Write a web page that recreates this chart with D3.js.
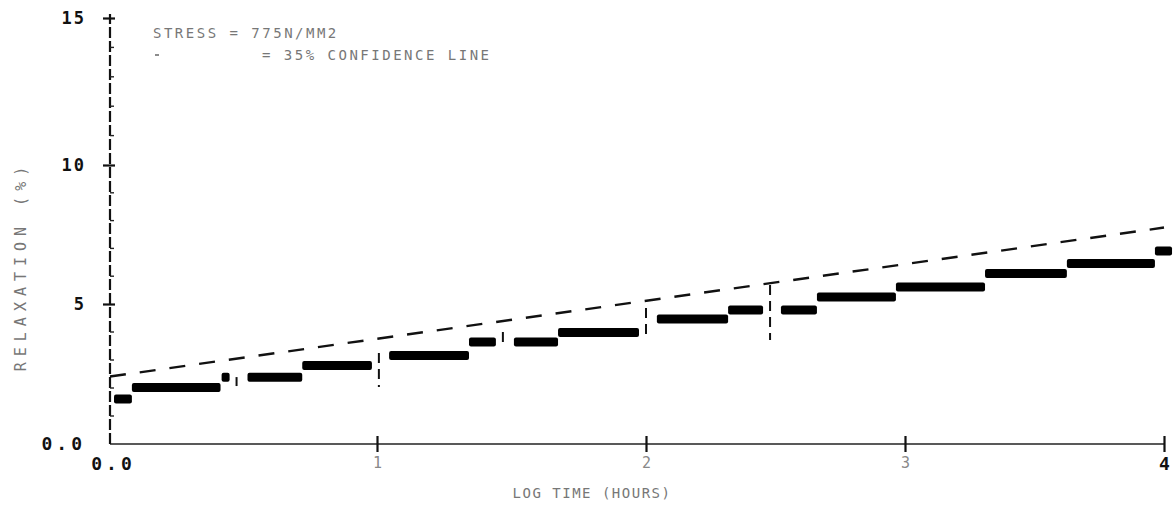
<!DOCTYPE html>
<html>
<head>
<meta charset="utf-8">
<script src="https://cdn.jsdelivr.net/npm/d3@7"></script>
<style>
  body { margin: 0; background: #fff; }
  svg text { font-family: "DejaVu Sans Mono", monospace; }
</style>
</head>
<body>
<div class="canva"></div>
<script>
// relaxation steps: start / end of each held step (log hours) and relaxation (%)
const stepStart = [0.015, 0.082, 0.418, 0.515, 0.720, 1.045, 1.342, 1.509, 1.673, 2.042, 2.317, 2.521, 2.660, 2.965, 3.309, 3.625, 3.965];
const stepEnd   = [0.082, 0.414, 0.448, 0.720, 0.981, 1.342, 1.442, 1.673, 1.974, 2.317, 2.452, 2.660, 2.965, 3.309, 3.625, 3.965, 4.031];
const relax     = [1.61, 2.02, 2.38, 2.38, 2.80, 3.16, 3.64, 3.64, 3.98, 4.46, 4.79, 4.79, 5.25, 5.61, 6.10, 6.46, 6.91];

// 95% confidence line end points
const confX = [0, 4];
const confY = [2.41, 7.75];

// short vertical marks (log hours, top %, bottom %)
const markX   = [0.474, 1.007, 1.468, 2.0, 2.479];
const markTop = [2.39, 3.25, 4.00, 4.86, 5.68];
const markBot = [2.07, 2.04, 3.64, 3.71, 3.71];

const xTicks = [0, 1, 2, 3, 4];
const xTickLabels = ["0.0", "1", "2", "3", "4"];
const yTicks = [0, 5, 10, 15];
const yTickLabels = ["0.0", "5", "10", "15"];
const yMinor = d3.range(1, 15).filter(d => d % 5 !== 0);

const width = 1176, height = 521;

const svg = d3.select(".canva").append("svg")
  .attr("width", width)
  .attr("height", height);

// the plotter axes are a little uneven, so keep the tick positions
const x = d3.scaleLinear().domain([0, 1, 2, 3, 4]).range([110, 377, 646, 905, 1164]);
const y = d3.scaleLinear().domain([0, 5, 10, 15]).range([444, 304, 165, 18]);

// x axis
const xAxis = svg.append("g")
  .attr("transform", "translate(0," + y(0) + ")")
  .call(d3.axisBottom(x).tickValues(xTicks).tickSize(0).tickFormat((d, i) => xTickLabels[i]));
xAxis.select(".domain").attr("d", "M" + x(0) + ",0H" + x(4)).attr("stroke", "#222").attr("stroke-width", 1.6);
xAxis.selectAll(".tick").filter(d => d > 0).append("line")
  .attr("y1", -8).attr("y2", 8).attr("stroke", "#111").attr("stroke-width", 2.2);
xAxis.selectAll(".tick text")
  .attr("y", 13)
  .attr("font-size", d => d === 0 || d === 4 ? 18 : 15)
  .attr("letter-spacing", d => d === 0 ? 4 : 0)
  .attr("fill", d => d === 0 || d === 4 ? "#111" : "#888")
  .attr("font-weight", d => d === 0 || d === 4 ? "bold" : "normal")
  .attr("dx", d => d === 0 ? 3 : 0);

// y axis
const yAxis = svg.append("g")
  .attr("transform", "translate(" + x(0) + ",0)")
  .call(d3.axisLeft(y).tickValues(yTicks).tickSize(0).tickFormat((d, i) => yTickLabels[i]));
yAxis.select(".domain").attr("d", "M0," + y(0) + "V" + (y(15) - 4))
  .attr("stroke", "#111").attr("stroke-width", 2.2).attr("stroke-dasharray", "11,3");
yAxis.selectAll(".tick").filter(d => d > 0).append("line")
  .attr("x1", -7).attr("x2", 5).attr("stroke", "#111").attr("stroke-width", 2.2);
yAxis.selectAll(".tick text")
  .attr("x", -24)
  .attr("font-size", d => d === 0 ? 18 : 17)
  .attr("font-weight", "bold")
  .attr("letter-spacing", d => d === 0 ? 4 : 2)
  .attr("fill", "#111");

yAxis.selectAll(".minor").data(yMinor).enter().append("line")
  .attr("x1", 0).attr("x2", 4)
  .attr("y1", d => y(d)).attr("y2", d => y(d))
  .attr("stroke", "#222").attr("stroke-width", 1.4);

// axis titles
svg.append("text")
  .text("LOG TIME (HOURS)")
  .attr("x", 592).attr("y", 498)
  .attr("text-anchor", "middle")
  .attr("font-size", 14)
  .attr("letter-spacing", 1.5)
  .attr("fill", "#777");

svg.append("text")
  .text("RELAXATION (%)")
  .attr("transform", "translate(26,266) rotate(-90)")
  .attr("text-anchor", "middle")
  .attr("font-size", 15)
  .attr("letter-spacing", 6)
  .attr("fill", "#777");

// legend
svg.append("text")
  .text("STRESS = 775N/MM2")
  .attr("x", 153).attr("y", 38)
  .attr("font-size", 14)
  .attr("letter-spacing", 2.5)
  .attr("fill", "#777");

svg.append("line")
  .attr("x1", 155).attr("x2", 159)
  .attr("y1", 55).attr("y2", 55)
  .attr("stroke", "#666").attr("stroke-width", 1.5);

svg.append("text")
  .text("= 35% CONFIDENCE LINE")
  .attr("x", 262).attr("y", 60)
  .attr("font-size", 14)
  .attr("letter-spacing", 2.5)
  .attr("fill", "#777");

// confidence line
svg.append("line")
  .attr("x1", x(confX[0])).attr("y1", y(confY[0]))
  .attr("x2", x(confX[1])).attr("y2", y(confY[1]))
  .attr("stroke", "#111")
  .attr("stroke-width", 2.4)
  .attr("stroke-dasharray", "16,14");

// vertical marks
svg.selectAll(".mark").data(markX).enter().append("line")
  .attr("x1", d => x(d)).attr("x2", d => x(d))
  .attr("y1", (d, i) => y(markTop[i]))
  .attr("y2", (d, i) => y(markBot[i]))
  .attr("stroke", "#111")
  .attr("stroke-width", 2)
  .attr("stroke-dasharray", "10,6");

// steps
svg.selectAll(".step").data(relax).enter().append("rect")
  .attr("x", (d, i) => x(stepStart[i]))
  .attr("width", (d, i) => x(stepEnd[i]) - x(stepStart[i]))
  .attr("y", d => y(d) - 4.5)
  .attr("height", 9)
  .attr("rx", 2)
  .attr("fill", "#000");
</script>
</body>
</html>
